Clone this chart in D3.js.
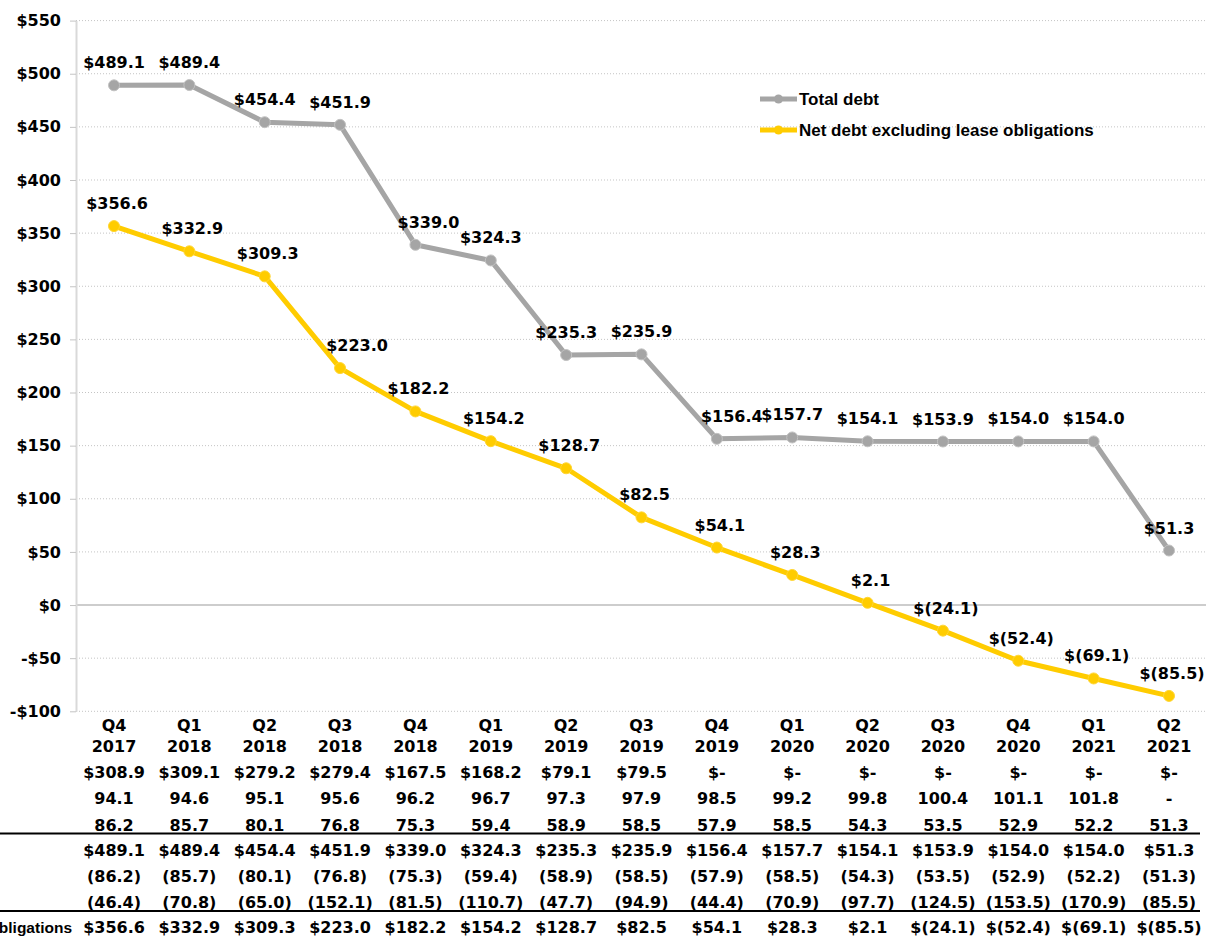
<!DOCTYPE html>
<html>
<head>
<meta charset="utf-8">
<script src="https://cdn.jsdelivr.net/npm/d3@7"></script>
<style>
  html, body { margin: 0; padding: 0; background: #ffffff; }
  svg { display: block; }
  .num { font-family: "DejaVu Sans", sans-serif; font-weight: bold; font-size: 16px; fill: #000; }
  .lab { font-family: "Liberation Sans", Arial, sans-serif; font-weight: bold; fill: #000; }
</style>
</head>
<body>
<svg id="chart" width="1206" height="937"></svg>
<script>
// Quarter categories
const quarters = ["Q4 2017","Q1 2018","Q2 2018","Q3 2018","Q4 2018","Q1 2019","Q2 2019","Q3 2019",
                  "Q4 2019","Q1 2020","Q2 2020","Q3 2020","Q4 2020","Q1 2021","Q2 2021"];

// Series values ($ millions)
const totalDebt = [489.1, 489.4, 454.4, 451.9, 339.0, 324.3, 235.3, 235.9, 156.4, 157.7, 154.1, 153.9, 154.0, 154.0, 51.3];
const netDebtExLease = [356.6, 332.9, 309.3, 223.0, 182.2, 154.2, 128.7, 82.5, 54.1, 28.3, 2.1, -24.1, -52.4, -69.1, -85.5];

// Table components
const debtRowA = [308.9, 309.1, 279.2, 279.4, 167.5, 168.2, 79.1, 79.5, 0, 0, 0, 0, 0, 0, 0];
const debtRowB = [94.1, 94.6, 95.1, 95.6, 96.2, 96.7, 97.3, 97.9, 98.5, 99.2, 99.8, 100.4, 101.1, 101.8, null];
const leaseObligations = [86.2, 85.7, 80.1, 76.8, 75.3, 59.4, 58.9, 58.5, 57.9, 58.5, 54.3, 53.5, 52.9, 52.2, 51.3];
const cashItems = [46.4, 70.8, 65.0, 152.1, 81.5, 110.7, 47.7, 94.9, 44.4, 70.9, 97.7, 124.5, 153.5, 170.9, 85.5];

// Axis ticks
const yTicks = [-100, -50, 0, 50, 100, 150, 200, 250, 300, 350, 400, 450, 500, 550];

const seriesNames = ["Total debt", "Net debt excluding lease obligations"];
const seriesColors = ["#a5a5a5", "#ffcc00"];

const W = 1206, H = 937;
const svg = d3.select("#chart");

const x = d3.scalePoint().domain(quarters).range([114, 1169]);
const y = d3.scaleLinear().domain([-100, 550]).range([711.3, 20.6]);

const money = v => v < 0 ? "$(" + Math.abs(v).toFixed(1) + ")" : "$" + v.toFixed(1);
const axisFmt = v => v < 0 ? "-$" + Math.abs(v) : "$" + v;

// Gridlines
const grid = svg.append("g");
grid.selectAll("line").data(yTicks).join("line")
  .attr("x1", 76).attr("x2", W)
  .attr("y1", d => y(d)).attr("y2", d => y(d))
  .attr("stroke", d => d === 0 ? "#bdbdbd" : "#c4c4c4")
  .attr("stroke-width", d => d === 0 ? 1.5 : 1)
  .attr("stroke-dasharray", d => d === 0 ? null : "1,2");

// Y axis
const yAxis = svg.append("g")
  .attr("transform", "translate(76,0)")
  .call(d3.axisLeft(y).tickValues(yTicks).tickSize(6).tickSizeOuter(0).tickPadding(9).tickFormat(axisFmt));
yAxis.select(".domain").attr("stroke", "#d9d9d9").attr("stroke-width", 2);
yAxis.selectAll(".tick line").attr("stroke", "#c4c4c4");
yAxis.selectAll(".tick text").attr("class", "num").attr("fill", "#000");

// Lines and markers
const series = [totalDebt, netDebtExLease];
const line = d3.line().x((d, i) => x(quarters[i])).y(d => y(d));

series.forEach((vals, s) => {
  svg.append("path")
    .attr("d", line(vals))
    .attr("fill", "none")
    .attr("stroke", seriesColors[s])
    .attr("stroke-width", 5)
    .attr("stroke-linejoin", "round");
  svg.append("g").selectAll("circle").data(vals).join("circle")
    .attr("cx", (d, i) => x(quarters[i]))
    .attr("cy", d => y(d))
    .attr("r", 5.5)
    .attr("fill", seriesColors[s])
    .attr("stroke", s === 0 ? "#c2c2c2" : "#ffd633")
    .attr("stroke-width", 1);
});

// Value labels; a few are nudged right so they clear the line
const labelShift = [
  {4: 13, 8: 15},
  {3: 17}
];
const labelBase = [0, 3];
series.forEach((vals, s) => {
  svg.append("g").selectAll("text").data(vals).join("text")
    .attr("class", "num")
    .attr("text-anchor", "middle")
    .attr("x", (d, i) => x(quarters[i]) + (labelShift[s][i] !== undefined ? labelShift[s][i] : labelBase[s]))
    .attr("y", d => y(d) - 17)
    .text(d => money(d));
});

// Legend
const legend = svg.append("g");
[99, 130].forEach((ly, s) => {
  legend.append("line")
    .attr("x1", 760).attr("x2", 797).attr("y1", ly).attr("y2", ly)
    .attr("stroke", seriesColors[s]).attr("stroke-width", 5);
  legend.append("circle")
    .attr("cx", 778.5).attr("cy", ly).attr("r", 4.5)
    .attr("fill", seriesColors[s]);
  legend.append("text")
    .attr("class", "lab")
    .attr("x", 799).attr("y", ly + 6)
    .style("font-size", "17px")
    .text(seriesNames[s]);
});

// Data table below the chart
const table = svg.append("g");
const rows = [
  { y: 731, vals: quarters, fmt: d => d.split(" ")[0] },
  { y: 752, vals: quarters, fmt: d => d.split(" ")[1] },
  { y: 778, vals: debtRowA, fmt: d => d === 0 ? "$-" : "$" + d.toFixed(1) },
  { y: 804, vals: debtRowB, fmt: d => d === null ? "-" : d.toFixed(1) },
  { y: 830.5, vals: leaseObligations, fmt: d => d.toFixed(1) },
  { y: 856, vals: totalDebt, fmt: money },
  { y: 882, vals: leaseObligations, fmt: d => "(" + d.toFixed(1) + ")" },
  { y: 907.5, vals: cashItems, fmt: d => "(" + d.toFixed(1) + ")" },
  { y: 933, vals: netDebtExLease, fmt: money }
];
rows.forEach(r => {
  table.append("g").selectAll("text").data(r.vals).join("text")
    .attr("class", "num")
    .attr("text-anchor", "middle")
    .attr("x", (d, i) => x(quarters[i]))
    .attr("y", r.y)
    .text(r.fmt);
});

table.append("text")
  .attr("class", "lab")
  .attr("text-anchor", "end")
  .attr("x", 72).attr("y", 933)
  .style("font-size", "15.5px")
  .text("Net debt excluding lease obligations");

[833.5, 911].forEach(ly => {
  table.append("line")
    .attr("x1", 0).attr("x2", 1200).attr("y1", ly).attr("y2", ly)
    .attr("stroke", "#000").attr("stroke-width", 2);
});
</script>
</body>
</html>
